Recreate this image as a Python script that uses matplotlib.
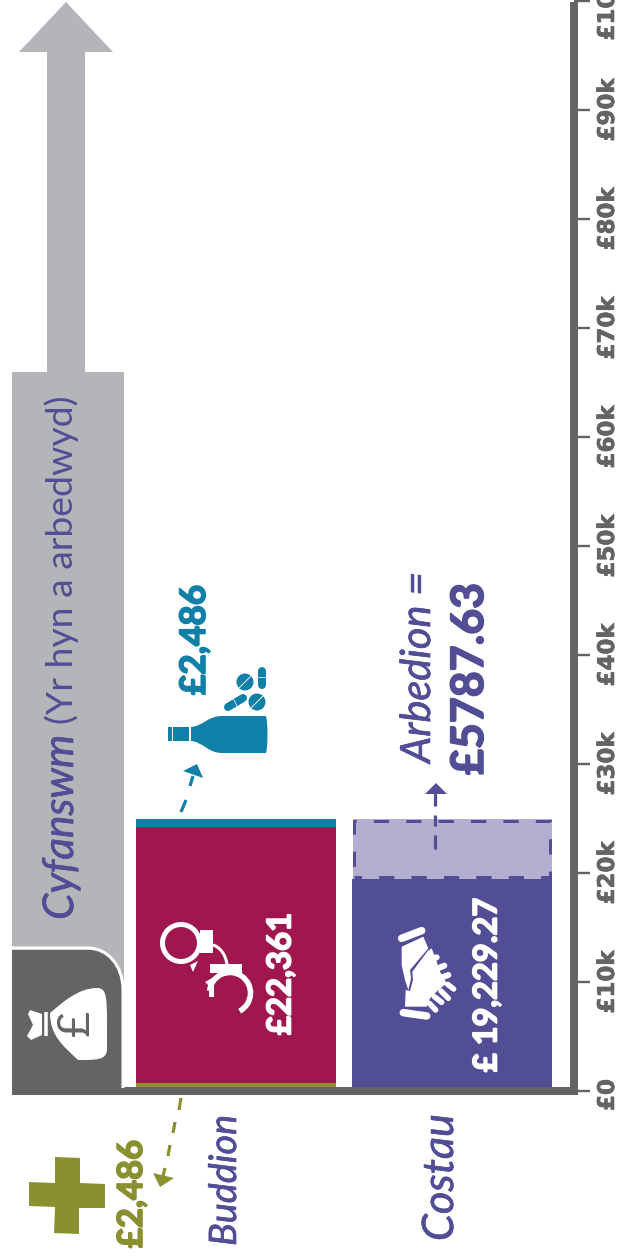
import matplotlib
matplotlib.use('Agg')
import matplotlib.pyplot as plt
import matplotlib.patheffects as pe
from matplotlib.patches import Polygon, Circle, PathPatch, Arc
from matplotlib.path import Path
from matplotlib.transforms import ScaledTranslation

# ---- data (bar heights) ----
benefit_base = 700       # olive sliver
benefit_main = 23500     # crimson block
benefit_top = 750        # teal sliver
cost_main = 19450
cost_saving = 5504
total_value = 66000
categories = ['Buddion', 'Costau']
tick_values = [0, 10000, 20000, 30000, 40000, 50000, 60000, 70000, 80000, 90000, 100000]
tick_labels = ['£0', '£10k', '£20k', '£30k', '£40k', '£50k', '£60k', '£70k', '£80k', '£90k', '£100k']

W, H = 620, 1258
GREY, DARK, RED, TEAL, PURP, LILAC, OLIVE = ('#b4b5b8', '#636466', '#9f174e', '#1180a8',
                                             '#524e96', '#b4afd0', '#8a9030')
PT = 0.72

fig = plt.figure(figsize=(W / 100, H / 100), dpi=100, facecolor='white')
ax = fig.add_axes([0, (H - 1091) / H, 574 / W, 1090 / H])
ax.set_xlim(0, 574)
ax.set_ylim(0, 100000)
ax.patch.set_alpha(0)
for s in ['top', 'left']:
    ax.spines[s].set_visible(False)
for s in ['bottom', 'right']:
    ax.spines[s].set_linewidth(8 * PT)
    ax.spines[s].set_color(DARK)
ax.spines['right'].set_capstyle('projecting')
ax.spines['right'].set_bounds(0, 99500)
ax.spines['bottom'].set_capstyle('butt')
ax.spines['bottom'].set_bounds(12, 574)
ax.yaxis.tick_right()
ax.set_yticks(tick_values)
ax.set_yticklabels(tick_labels, rotation=90, va='center', ha='left', family='DejaVu Sans',
                   weight='bold', fontsize=16.5, color=DARK)
ax.tick_params(axis='y', length=11.5, width=2.4 * PT, color=DARK, pad=4.3)
for lab in ax.get_yticklabels():
    lab.set_path_effects([pe.withStroke(linewidth=0.5, foreground=DARK)])
zero_label = ax.get_yticklabels()[0]
zero_label.set_transform(zero_label.get_transform() + ScaledTranslation(0, -4 / 100, fig.dpi_scale_trans))
ax.set_xticks([])

# bars
ax.bar(68, total_value, width=112, color=GREY, zorder=1)
ax.bar(236, benefit_base, width=200, color=OLIVE, zorder=1)
ax.bar(236, benefit_main, width=200, bottom=benefit_base, color=RED, zorder=1)
ax.bar(236, benefit_top, width=200, bottom=benefit_base + benefit_main, color=TEAL, zorder=1)
ax.bar(452, cost_main, width=200, color=PURP, zorder=1)
ax.bar(452, cost_saving, width=199, bottom=cost_main, color=LILAC, zorder=1)
ax.bar(452, cost_saving - 280, width=196, bottom=cost_main + 140, facecolor='none', edgecolor=PURP,
       linewidth=3 * PT, linestyle=(2.6, (5.1, 5.7)), zorder=2)

# overlay in pixel coordinates
ov = fig.add_axes([0, 0, 1, 1])
ov.set_xlim(0, W)
ov.set_ylim(H, 0)
ov.axis('off')
rend = fig.canvas.get_renderer()


def fit(txt, x, y0, y1, color, stroke=0.0, **kw):
    t = ov.text(x, (y0 + y1) / 2, txt, rotation=90, ha='center', va='center', color=color,
                fontsize=20, **kw)
    h = t.get_window_extent(rend).height
    t.set_fontsize(20 * (y1 - y0) / h)
    if stroke:
        t.set_path_effects([pe.withStroke(linewidth=stroke, foreground=color)])
    return t


SCRIPT = dict(family='Lato', style='italic', stroke=0.5)
BOLD = dict(family='Lato', weight='bold', stroke=1.2)


def poly(pts, color, **kw):
    ov.add_patch(Polygon(pts, closed=True, facecolor=color, edgecolor='none', **kw))


def curve(verts, codes, **kw):
    ov.add_patch(PathPatch(Path(verts, codes), **kw))


def seg(pts, color, lw, cap='butt'):
    xs, ys = zip(*pts)
    ov.plot(xs, ys, color=color, lw=lw * PT, solid_capstyle=cap, solid_joinstyle='round')


M, L, C = Path.MOVETO, Path.LINETO, Path.CURVE4
Z = Path.CLOSEPOLY

# big grey arrow above the total bar
poly([(47, 372), (47, 52), (19, 52), (66, 2), (113, 52), (85, 52), (85, 372)], GREY)

# dark box with money bag
curve([(12, 1088), (12, 950), (88, 950), (107, 950), (123, 965), (123, 990), (123, 1088), (12, 1088)],
      [M, L, L, C, C, C, L, Z], facecolor=DARK, edgecolor='none')
curve([(12, 948), (88, 948), (107, 948), (123, 965), (123, 990), (123, 1088)],
      [M, L, C, C, C, L], facecolor='none', edgecolor='white', lw=3 * PT)
curve([(50, 1013), (62, 1003), (78, 988), (97, 988), (106, 988), (107, 995), (107, 1024),
       (107, 1050), (106, 1060), (97, 1060), (78, 1060), (62, 1045), (50, 1035), (50, 1013)],
      [M, C, C, C, C, C, C, L, C, C, C, C, C, Z], facecolor='white', edgecolor='none')
ov.plot([45.5, 45.5], [1012, 1036], color='white', lw=3.5 * PT, solid_capstyle='butt')
poly([(30, 1010), (42, 1014), (42, 1035), (31, 1040), (27, 1036), (33, 1025), (28, 1014)], 'white')
fit('£', 76, 1010, 1036, DARK, family='Lato', weight='normal')

# Cyfanswm label
fit('Cyfanswm', 61, 735, 920, PURP, **SCRIPT)
fit('(Yr hyn a arbedwyd)', 62, 395, 724, PURP, family='Lato', weight='normal')

# handcuffs
ov.add_patch(Circle((181, 943), 18.5, facecolor='none', edgecolor='white', lw=5 * PT))
poly([(200, 930), (213, 930), (213, 953), (200, 953)], 'white')
poly([(190, 965), (198, 961), (193, 972)], 'white')
poly([(210, 964), (242, 964), (242, 973), (210, 973)], 'white')
poly([(205, 982), (214, 977), (212, 989)], 'white')
curve([(213, 945), (220, 947), (226, 955), (227, 965)], [M, C, C, C], facecolor='none',
      edgecolor='white', lw=3 * PT)
ov.add_patch(Arc((230, 993), 41, 41, theta1=-174, theta2=62, edgecolor='white', lw=5.5 * PT))
poly([(209, 982), (214, 982), (214, 997), (209, 997)], 'white')

# handshake
H_PTS = lambda pts: [(385 + a / 3, 915 + b / 3) for a, b in pts]
seg(H_PTS([(50, 70), (110, 47)]), 'white', 7.5, 'round')
seg(H_PTS([(55, 293), (125, 303)]), 'white', 7.5, 'round')
poly(H_PTS([(50, 95), (115, 65), (130, 100), (75, 165), (78, 190), (70, 225), (60, 195), (50, 150)]), 'white')
poly(H_PTS([(82, 170), (128, 108), (140, 100), (150, 125), (165, 170), (185, 205), (160, 225), (135, 250),
            (125, 275), (60, 275), (62, 225), (75, 228), (84, 195)]), 'white')
for a, b in [((120, 140), (155, 127)), ((135, 170), (178, 152)), ((150, 195), (190, 180))]:
    seg(H_PTS([a, b]), 'white', 6, 'round')
for a, b in [((133, 265), (152, 285)), ((148, 245), (170, 262)), ((168, 228), (190, 250)),
             ((188, 208), (206, 222))]:
    seg(H_PTS([a, b]), 'white', 5.5, 'round')

# bottle and pills
poly([(168, 727), (172, 727), (172, 741), (168, 741)], TEAL)
poly([(173, 727), (189, 727), (189, 741), (173, 741)], TEAL)
curve([(191, 727), (203, 726), (208, 716), (222, 716), (266, 716), (268, 722), (268, 747), (266, 753),
       (222, 753), (208, 753), (203, 742), (191, 741), (191, 727)],
      [M, C, C, C, L, C, C, C, L, C, C, C, Z], facecolor=TEAL, edgecolor='none')
seg([(262, 671), (262, 685)], TEAL, 8, 'round')
seg([(258, 677), (266, 677)], 'white', 0.7)
seg([(228, 707), (243, 698)], TEAL, 8, 'round')
seg([(233, 698), (238, 708)], 'white', 0.7)
for cx, cy, rad in [(245, 682, 8.5), (257, 702, 8.5)]:
    ov.add_patch(Circle((cx, cy), rad, facecolor=TEAL, edgecolor='none'))
    seg([(cx - 6, cy + 6), (cx + 6, cy - 6)], 'white', 0.9)

# dashed pointer arrows
for a, b in [((181, 812), (186, 800)), ((190, 786), (193, 776))]:
    seg([a, b], TEAL, 3.2)
poly([(183, 771), (197, 764), (203, 778)], TEAL)
for a, b in [((435, 849), (435, 835)), ((435, 826), (435, 815)), ((435, 806), (435, 792))]:
    seg([a, b], PURP, 3.2)
poly([(425, 794), (436, 783), (447, 794)], PURP)
for a, b in [((181, 1098), (179, 1110)), ((175, 1122), (173, 1133)), ((170, 1145), (168, 1156)),
             ((165, 1168), (163, 1176))]:
    seg([a, b], OLIVE, 3.2)
poly([(153, 1173), (174, 1178), (160, 1187)], OLIVE)

# plus
poly([(55, 1157), (80, 1158), (80, 1183), (105, 1184), (105, 1208), (79, 1208), (79, 1234),
      (54, 1233), (55, 1207), (29, 1206), (29, 1182), (55, 1183)], OLIVE)

# value labels
fit('£2,486', 132, 1140, 1248, OLIVE, **BOLD)
fit('£22,361', 281, 913, 1035, 'white', **BOLD)
fit('£ 19,229.27', 487, 898, 1072, 'white', **BOLD)
fit('£2,486', 195, 585, 695, TEAL, **BOLD)
fit('£5787.63', 470, 583, 775, PURP, **BOLD)
fit('Arbedion =', 418, 572, 763, PURP, **SCRIPT)
fit(categories[0], 225, 1115, 1246, PURP, **SCRIPT)
fit(categories[1], 441, 1114, 1241, PURP, **SCRIPT)

fig.savefig('out.png', dpi=100, facecolor='white')
